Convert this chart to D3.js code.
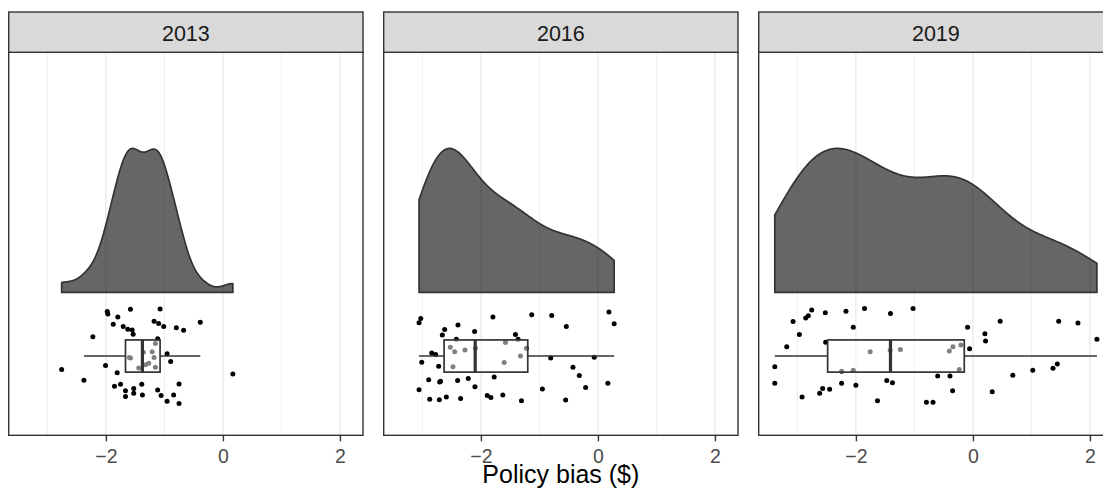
<!DOCTYPE html>
<html>
<head>
<meta charset="utf-8">
<script src="https://cdn.jsdelivr.net/npm/d3@7"></script>
<style>
  html, body { margin: 0; padding: 0; background: #ffffff; }
  svg { display: block; font-family: "Liberation Sans", Arial, Helvetica, sans-serif; }
</style>
</head>
<body>
<svg id="chart" width="1103" height="497"></svg>
<script>
// Facet labels (survey years)
const years = ["2013", "2016", "2019"];

// Policy bias ($) per respondent, one array per year
const bias2013 = [-1.977, -1.967, -1.580, -1.074, -1.796, -1.176, -1.098, -1.012, -1.875, -1.704,
  -1.626, -1.551, -1.534, -0.796, -0.672, -0.387, -2.223, -1.115, -1.154, -1.210,
  -1.176, -1.580, -0.954, -0.893, -1.268, -1.324, -1.439, -1.154, -2.006, -1.807,
  -2.756, -2.376, 0.170, -1.853, -1.750, -1.387, -0.750, -1.665, -1.524, -1.524,
  -1.665, -1.376, -1.115, -1.057, -0.842, -0.954, -0.750, -1.600, -1.360];
const bias2016 = [-3.028, -3.057, -1.795, -1.131, -0.790, 0.188, 0.278, -0.540, -2.392, -2.619,
  -2.659, -2.420, -2.108, -1.409, -1.364, -2.841, -2.773, -3.011, -2.722, -2.523,
  -2.449, -2.273, -2.477, -1.580, -1.602, -1.324, -1.222, -0.807, -0.063, -0.426,
  -0.318, -0.210, 0.170, -0.949, -1.773, -2.892, -2.705, -2.398, -2.216, -2.102,
  -3.057, -2.875, -2.710, -2.591, -2.347, -1.892, -1.830, -1.625, -1.307, -0.551,
  -2.093, -2.690];
const bias2019 = [-3.386, -3.386, -3.182, -3.074, -2.966, -2.858, -2.813, -2.756, -2.920, -2.619,
  -2.568, -2.449, -2.523, -2.517, -2.244, -2.045, -2.244, -2.000, -2.170, -1.852,
  -2.045, -1.756, -1.631, -1.472, -1.375, -1.409, -1.023, -1.239, -1.415, -0.795,
  -0.682, -0.602, -0.392, -0.347, -0.403, -0.341, -0.205, -0.233, -0.091, -0.057,
  0.205, 0.216, 0.466, 0.330, 0.682, 1.023, 1.369, 1.443, 1.466, 1.795,
  2.119];

// Vertical jitter of each raw point around the boxplot centre
const jitter2013 = [0.116, 0.110, 0.122, 0.123, 0.102, 0.091, 0.085, 0.077, 0.083, 0.077,
  0.070, 0.068, 0.057, 0.074, 0.067, 0.088, 0.050, 0.045, 0.033, 0.011,
  -0.004, -0.005, 0.006, -0.014, -0.019, -0.023, -0.031, -0.029, -0.025, -0.044,
  -0.035, -0.063, -0.047, -0.079, -0.074, -0.074, -0.073, -0.091, -0.085, -0.097,
  -0.106, -0.102, -0.089, -0.103, -0.102, -0.118, -0.124, -0.004, 0.010];
const jitter2016 = [0.098, 0.087, 0.102, 0.108, 0.106, 0.115, 0.084, 0.077, 0.081, 0.069,
  0.055, 0.044, 0.064, 0.056, 0.044, 0.008, 0.004, -0.016, -0.027, 0.023,
  0.011, 0.016, -0.028, 0.035, -0.017, 0.000, 0.020, -0.005, -0.003, -0.029,
  -0.051, -0.082, -0.071, -0.086, -0.055, -0.062, -0.068, -0.064, -0.059, -0.080,
  -0.088, -0.113, -0.114, -0.107, -0.111, -0.103, -0.108, -0.102, -0.117, -0.115,
  0.020, -0.066];
const jitter2019 = [-0.028, -0.071, 0.024, 0.090, 0.056, 0.099, 0.105, 0.120, -0.107, -0.097,
  -0.085, -0.087, 0.113, 0.036, -0.040, -0.037, -0.071, -0.076, 0.117, 0.124,
  0.075, 0.011, -0.117, -0.064, -0.070, 0.111, 0.124, 0.017, 0.015, -0.121,
  -0.121, -0.052, -0.052, -0.091, 0.013, 0.024, 0.029, -0.035, 0.075, 0.019,
  0.058, 0.039, 0.091, -0.093, -0.050, -0.037, -0.032, -0.021, 0.091, 0.086,
  0.044];

// Axis breaks and labels
const majorBreaks = [-2, 0, 2];
const minorBreaks = [-3, -1, 1];
const tickLabels = ["\u22122", "0", "2"];
const xTitle = "Policy bias ($)";

const panels = [
  { year: years[0], values: bias2013, jitter: jitter2013 },
  { year: years[1], values: bias2016, jitter: jitter2016 },
  { year: years[2], values: bias2019, jitter: jitter2019 }
];

// ---- layout ----
const panelLeft0 = 8.7, panelW = 354.3, panelStep = 375;
const stripTop = 12, panelTop = 52.3, panelBottom = 435.3;
const ink = "#333333";

const svg = d3.select("#chart");

// shared x scale with 5% expansion of the pooled range
const all = panels.flatMap(p => p.values);
const [lo, hi] = d3.extent(all);
const pad = (hi - lo) * 0.05;
const xScale = d3.scaleLinear().domain([lo - pad, hi + pad]).range([0, panelW]);

// vertical layout in plot units: 0 = boxplot centre
const yScale = d3.scaleLinear().domain([-0.207, 0.793]).range([panelBottom, panelTop]);
const densBase = 0.166, densHeight = 0.376, boxHalf = 0.042;

// Gaussian kernel density with R's bw.nrd0 rule, evaluated over the data range
function kde(values) {
  const s = values.slice().sort(d3.ascending);
  const n = s.length;
  const sd = d3.deviation(s);
  const iqr = d3.quantileSorted(s, 0.75) - d3.quantileSorted(s, 0.25);
  let lim = Math.min(sd, iqr / 1.34);
  if (!(lim > 0)) lim = sd || 1;
  const bw = 0.9 * lim * Math.pow(n, -0.2);
  const xs = d3.range(512).map(i => s[0] + (s[n - 1] - s[0]) * i / 511);
  return xs.map(x => {
    let sum = 0;
    for (const v of s) { const u = (x - v) / bw; sum += Math.exp(-0.5 * u * u); }
    return [x, sum / (n * bw * Math.sqrt(2 * Math.PI))];
  });
}

function boxStats(values) {
  const s = values.slice().sort(d3.ascending);
  const q1 = d3.quantileSorted(s, 0.25), med = d3.quantileSorted(s, 0.5), q3 = d3.quantileSorted(s, 0.75);
  const iqr = q3 - q1;
  const lowW = d3.min(s.filter(v => v >= q1 - 1.5 * iqr));
  const highW = d3.max(s.filter(v => v <= q3 + 1.5 * iqr));
  return { q1, med, q3, lowW, highW };
}

panels.forEach((p, i) => {
  const x0 = panelLeft0 + i * panelStep;
  const g = svg.append("g").attr("transform", `translate(${x0},0)`);
  const clipId = "clip" + i;
  g.append("clipPath").attr("id", clipId)
    .append("rect").attr("x", 0).attr("y", panelTop).attr("width", panelW).attr("height", panelBottom - panelTop);

  const body = g.append("g").attr("clip-path", `url(#${clipId})`);

  // background + grid
  body.append("rect").attr("x", 0).attr("y", panelTop).attr("width", panelW)
    .attr("height", panelBottom - panelTop).attr("fill", "#ffffff");
  body.selectAll("line.minor").data(minorBreaks).join("line")
    .attr("class", "minor")
    .attr("x1", d => xScale(d)).attr("x2", d => xScale(d))
    .attr("y1", panelTop).attr("y2", panelBottom)
    .attr("stroke", "#EBEBEB").attr("stroke-width", 0.8);
  body.selectAll("line.major").data(majorBreaks).join("line")
    .attr("class", "major")
    .attr("x1", d => xScale(d)).attr("x2", d => xScale(d))
    .attr("y1", panelTop).attr("y2", panelBottom)
    .attr("stroke", "#EBEBEB").attr("stroke-width", 1.5);

  // half-violin density (scaled to common peak height)
  const dens = kde(p.values);
  const dmax = d3.max(dens, d => d[1]);
  const area = d3.area()
    .x(d => xScale(d[0]))
    .y0(yScale(densBase))
    .y1(d => yScale(densBase + densHeight * d[1] / dmax));
  body.append("path").datum(dens)
    .attr("d", d => area(d) + "Z")
    .attr("fill", "#000000").attr("fill-opacity", 0.6)
    .attr("stroke", ink).attr("stroke-width", 1.7).attr("stroke-linejoin", "round");

  // raw points
  body.selectAll("circle.pt").data(p.values.map((v, k) => [v, p.jitter[k]])).join("circle")
    .attr("class", "pt")
    .attr("cx", d => xScale(d[0]))
    .attr("cy", d => yScale(d[1]))
    .attr("r", 2.5)
    .attr("fill", "#000000");

  // boxplot (semi-transparent white box over the points)
  const b = boxStats(p.values);
  const yc = yScale(0), yt = yScale(boxHalf), yb = yScale(-boxHalf);
  body.append("line").attr("x1", xScale(b.lowW)).attr("x2", xScale(b.q1))
    .attr("y1", yc).attr("y2", yc).attr("stroke", ink).attr("stroke-width", 1.7);
  body.append("line").attr("x1", xScale(b.q3)).attr("x2", xScale(b.highW))
    .attr("y1", yc).attr("y2", yc).attr("stroke", ink).attr("stroke-width", 1.7);
  body.append("rect")
    .attr("x", xScale(b.q1)).attr("y", yt)
    .attr("width", xScale(b.q3) - xScale(b.q1)).attr("height", yb - yt)
    .attr("fill", "#ffffff").attr("fill-opacity", 0.5)
    .attr("stroke", ink).attr("stroke-width", 1.7);
  body.append("line").attr("x1", xScale(b.med)).attr("x2", xScale(b.med))
    .attr("y1", yt).attr("y2", yb).attr("stroke", ink).attr("stroke-width", 3.2);

  // panel border
  g.append("rect").attr("x", 0).attr("y", panelTop).attr("width", panelW)
    .attr("height", panelBottom - panelTop)
    .attr("fill", "none").attr("stroke", ink).attr("stroke-width", 1.4);

  // strip
  g.append("rect").attr("x", 0).attr("y", stripTop).attr("width", panelW)
    .attr("height", panelTop - stripTop)
    .attr("fill", "#D9D9D9").attr("stroke", ink).attr("stroke-width", 1.4);
  g.append("text").attr("x", panelW / 2).attr("y", 40.5)
    .attr("text-anchor", "middle").attr("font-size", 21.5).attr("fill", "#1A1A1A")
    .text(p.year);

  // x axis
  const axis = d3.axisBottom(xScale).tickValues(majorBreaks)
    .tickFormat((d, k) => tickLabels[k]).tickSize(6).tickPadding(2);
  const ax = g.append("g").attr("transform", `translate(0,${panelBottom})`).call(axis);
  ax.select(".domain").remove();
  ax.selectAll(".tick line").attr("stroke", ink).attr("stroke-width", 1.4);
  ax.selectAll(".tick text")
    .attr("font-size", 19.5).attr("fill", "#4D4D4D")
    .attr("font-family", "Liberation Sans, Arial, Helvetica, sans-serif")
    .attr("dy", null).attr("y", 28);
});

// x-axis title centred under the panel row
const rowCenter = panelLeft0 + (2 * panelStep + panelW) / 2;
svg.append("text").attr("x", rowCenter).attr("y", 483)
  .attr("text-anchor", "middle").attr("font-size", 25).attr("fill", "#000000")
  .text(xTitle);
</script>
</body>
</html>
